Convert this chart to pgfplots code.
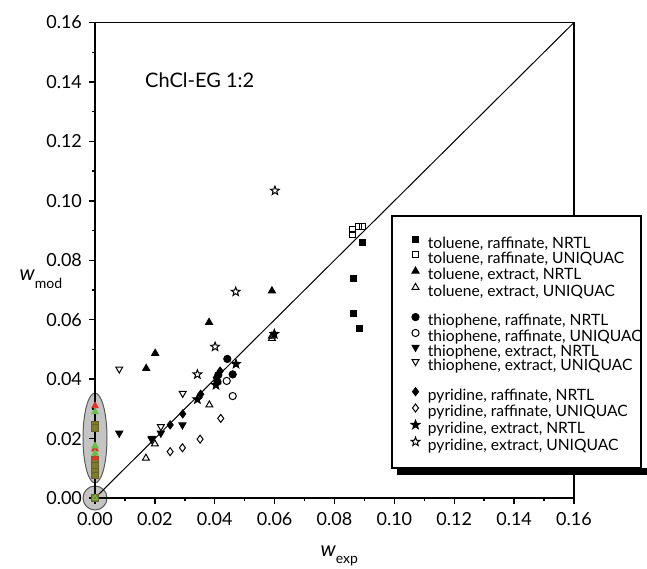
\documentclass[border=0pt]{standalone}
\usepackage{fontspec}
\setmainfont{Lato}
\usepackage{pgfplots}
\pgfplotsset{compat=1.18}
\usetikzlibrary{plotmarks}

\pgfdeclareplotmark{starF}{%
  \pgfpathmoveto{\pgfpointpolar{90}{\pgfplotmarksize}}%
  \pgfpathlineto{\pgfpointpolar{126}{0.42\pgfplotmarksize}}%
  \pgfpathlineto{\pgfpointpolar{162}{\pgfplotmarksize}}%
  \pgfpathlineto{\pgfpointpolar{198}{0.42\pgfplotmarksize}}%
  \pgfpathlineto{\pgfpointpolar{234}{\pgfplotmarksize}}%
  \pgfpathlineto{\pgfpointpolar{270}{0.42\pgfplotmarksize}}%
  \pgfpathlineto{\pgfpointpolar{306}{\pgfplotmarksize}}%
  \pgfpathlineto{\pgfpointpolar{342}{0.42\pgfplotmarksize}}%
  \pgfpathlineto{\pgfpointpolar{18}{\pgfplotmarksize}}%
  \pgfpathlineto{\pgfpointpolar{54}{0.42\pgfplotmarksize}}%
  \pgfpathclose
  \pgfusepathqfillstroke}
\pgfdeclareplotmark{starO}{%
  \pgfpathmoveto{\pgfpointpolar{90}{\pgfplotmarksize}}%
  \pgfpathlineto{\pgfpointpolar{126}{0.42\pgfplotmarksize}}%
  \pgfpathlineto{\pgfpointpolar{162}{\pgfplotmarksize}}%
  \pgfpathlineto{\pgfpointpolar{198}{0.42\pgfplotmarksize}}%
  \pgfpathlineto{\pgfpointpolar{234}{\pgfplotmarksize}}%
  \pgfpathlineto{\pgfpointpolar{270}{0.42\pgfplotmarksize}}%
  \pgfpathlineto{\pgfpointpolar{306}{\pgfplotmarksize}}%
  \pgfpathlineto{\pgfpointpolar{342}{0.42\pgfplotmarksize}}%
  \pgfpathlineto{\pgfpointpolar{18}{\pgfplotmarksize}}%
  \pgfpathlineto{\pgfpointpolar{54}{0.42\pgfplotmarksize}}%
  \pgfpathclose
  \pgfusepathqstroke}

\definecolor{mkred}{HTML}{E8302A}
\definecolor{mkgreen}{HTML}{6ABF4B}
\definecolor{mkolive}{HTML}{7F7A2E}

\begin{document}
\begin{tikzpicture}
\begin{axis}[
  name=ax, set layers, clip=false,
  scale only axis, width=239.5pt, height=237.75pt,
  xmin=0, xmax=0.16, ymin=0, ymax=0.16,
  xtick={0,0.02,0.04,0.06,0.08,0.10,0.12,0.14,0.16},
  ytick={0,0.02,0.04,0.06,0.08,0.10,0.12,0.14,0.16},
  minor tick num=1,
  tick align=outside, xtick pos=bottom, ytick pos=left,
  major tick length=3pt, minor tick length=1.7pt,
  axis line style={line width=0.8pt},
  every tick/.style={black, line width=0.7pt},
  tick label style={font=\fontsize{9}{10}\selectfont},
  xticklabel style={yshift=-0.8pt},
  scaled ticks=false,
  /pgf/number format/fixed,
  /pgf/number format/fixed zerofill,
  /pgf/number format/precision=2,
  /pgf/number format/assume math mode=true,
  only marks, mark size=1.7pt,
  every axis plot/.append style={line width=0.5pt, black},
  legend image code/.code={\draw[#1] plot coordinates {(0pt,2.6pt)};},
  legend cell align=left,
  legend style={at={(0.660,0.550)}, anchor=north west, draw=none, fill=none,
    inner sep=0pt, outer sep=0pt, row sep=0.2pt, column sep=4pt,
    font=\fontsize{7.8}{9}\selectfont,
    nodes={inner sep=0pt, text height=5.2pt, text depth=1.5pt}},
]
\begin{pgfonlayer}{axis background}
\draw[fill=black!23, draw=black!65, line width=0.5pt] (axis cs:0,0.0202) ellipse [x radius=6pt, y radius=22.5pt];
\draw[fill=black!23, draw=black!65, line width=0.5pt] (axis cs:0,0) circle [radius=6pt];
\end{pgfonlayer}

% diagonal
\addplot[no marks, sharp plot, line width=0.5pt, forget plot] coordinates {(0,0) (0.16,0.16)};

% coloured marks inside the highlighted regions
\addplot[forget plot, mark=square*, mark size=1.6pt, mkolive, mark options={fill=mkolive, draw=mkolive!80!black}] coordinates {
(0,0.0245) (0,0.0235) (0,0.013) (0,0.011) (0,0.009) (0,0.0075) (0,0)};
\addplot[forget plot, mark=triangle*, mark size=1.8pt, mkred, mark options={fill=mkred, draw=mkred}] coordinates {
(0,0.031) (0,0.0165) (0,0.0135)};
\addplot[forget plot, mark=triangle*, mark size=1.8pt, mkgreen, mark options={fill=mkgreen, draw=mkgreen}] coordinates {
(0,0.029) (0,0.0175) (0,0.015)};
\addplot[forget plot, mark=triangle, mark size=1.5pt, mkgreen, mark options={fill=white, draw=mkgreen}] coordinates {(0,0)};

% toluene
\addplot[mark=square*, mark size=1.5pt, mark options={fill=black}] coordinates {
(0.0892,0.0859) (0.0862,0.0738) (0.0862,0.0620) (0.0882,0.0569)};
\addlegendentry{toluene, raffinate, NRTL}
\addplot[mark=square, mark size=1.5pt] coordinates {
(0.0861,0.0905) (0.0861,0.0885) (0.0880,0.0913) (0.0893,0.0915)};
\addlegendentry{toluene, raffinate, UNIQUAC}
\addplot[mark=triangle*, mark size=2pt, mark options={fill=black}] coordinates {
(0.0591,0.0697) (0.0381,0.0591) (0.0201,0.0487) (0.0171,0.0436)};
\addlegendentry{toluene, extract, NRTL}
\addplot[mark=triangle, mark size=2pt] coordinates {
(0.0591,0.0537) (0.0591,0.0545) (0.0382,0.0313) (0.0200,0.0182) (0.0170,0.0134)};
\addlegendentry{toluene, extract, UNIQUAC}
\addlegendimage{empty legend}\addlegendentry{}

% thiophene
\addplot[mark=*, mark size=1.8pt, mark options={fill=black}] coordinates {
(0.0442,0.0468) (0.0460,0.0416) (0.0412,0.0414) (0.0409,0.0391)};
\addlegendentry{thiophene, raffinate, NRTL}
\addplot[mark=o, mark size=1.8pt] coordinates {
(0.0440,0.0394) (0.0460,0.0343)};
\addlegendentry{thiophene, raffinate, UNIQUAC}
\addplot[mark=triangle*, mark size=2pt, mark options={fill=black, rotate=180}] coordinates {
(0.0292,0.0246) (0.0220,0.0218) (0.0081,0.0218) (0.0190,0.0201)};
\addlegendentry{thiophene, extract, NRTL}
\addplot[mark=triangle, mark size=2pt, mark options={rotate=180}] coordinates {
(0.0081,0.0434) (0.0293,0.0352) (0.0220,0.0240) (0.0189,0.0198)};
\addlegendentry{thiophene, extract, UNIQUAC}
\addlegendimage{empty legend}\addlegendentry{}

% pyridine
\addplot[mark=diamond*, mark size=2pt, mark options={fill=black}] coordinates {
(0.0418,0.0427) (0.0405,0.0405) (0.0353,0.0349) (0.0293,0.0283) (0.0251,0.0246)};
\addlegendentry{pyridine, raffinate, NRTL}
\addplot[mark=diamond, mark size=2pt] coordinates {
(0.0420,0.0268) (0.0351,0.0198) (0.0292,0.0169) (0.0251,0.0156)};
\addlegendentry{pyridine, raffinate, UNIQUAC}
\addplot[mark=starF, mark size=2.3pt, mark options={fill=black}] coordinates {
(0.0599,0.0552) (0.0471,0.0451) (0.0404,0.0380) (0.0342,0.0332)};
\addlegendentry{pyridine, extract, NRTL}
\addplot[mark=starO, mark size=2.3pt] coordinates {
(0.0601,0.1034) (0.0470,0.0694) (0.0401,0.0509) (0.0342,0.0416)};
\addlegendentry{pyridine, extract, UNIQUAC}

% legend frame and shadow
\fill[black] (rel axis cs:0.6305,0.048) rectangle (rel axis cs:1.16,0.063);
\draw[line width=0.65pt, fill=white] (rel axis cs:0.620,0.063) rectangle (rel axis cs:1.140,0.593);

% texts
\node[anchor=base west, inner sep=0pt, font=\fontsize{10}{12}\selectfont] at (rel axis cs:0.104,0.864) {ChCl-EG 1:2};
\node[anchor=base, inner sep=0pt, font=\fontsize{10.5}{12}\selectfont] at (rel axis cs:0.510,-0.122)
  {\textit{w}\raisebox{-0.38em}{\fontsize{7}{8}\selectfont exp}};
\node[anchor=base, inner sep=0pt, font=\fontsize{10.5}{12}\selectfont] at (rel axis cs:-0.113,0.458)
  {\textit{w}\raisebox{-0.38em}{\fontsize{7}{8}\selectfont mod}};
\end{axis}
\pgfresetboundingbox
\path[use as bounding box] ([shift={(-47.5pt,-35pt)}]ax.south west) rectangle ([shift={(276pt,249pt)}]ax.south west);
\end{tikzpicture}
\end{document}
